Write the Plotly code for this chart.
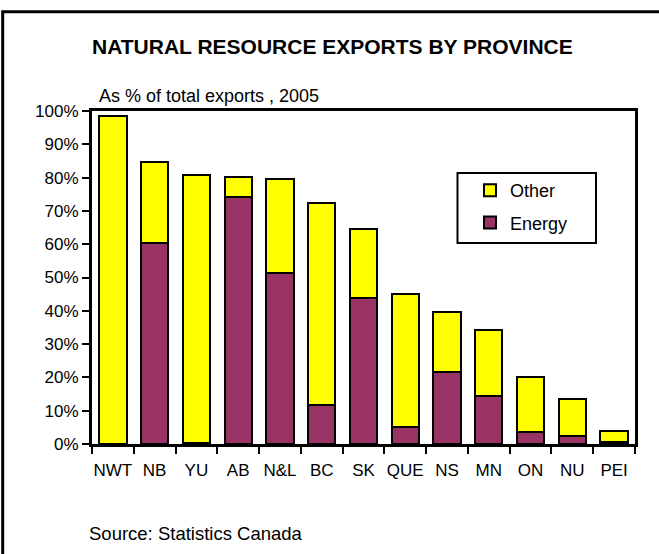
import plotly.graph_objects as go

# Natural resource exports as a share of total exports, 2005
provinces = ["NWT", "NB", "YU", "AB", "N&L", "BC", "SK", "QUE", "NS", "MN", "ON", "NU", "PEI"]
energy = [0.0, 60.4, 0.3, 74.1, 51.4, 11.6, 43.8, 5.1, 21.7, 14.4, 3.6, 2.5, 0.7]
other = [98.5, 24.3, 80.4, 6.1, 28.1, 60.9, 20.7, 39.9, 17.9, 19.8, 16.4, 10.9, 3.3]
y_ticks = [0, 10, 20, 30, 40, 50, 60, 70, 80, 90, 100]
y_labels = [f"{v}%" for v in y_ticks]

W, H = 659, 554
ML, MR, MT, MB = 92, 24, 111, 110
PW, PH = W - ML - MR, H - MT - MB


def px(x):
    return (x - ML) / PW


def py(y):
    return (H - MB - y) / PH


FONT = "Liberation Sans, Arial, sans-serif"

fig = go.Figure()
fig.add_trace(go.Bar(
    x=provinces, y=energy, name="Energy", legendgroup="energy", legendrank=2,
    marker=dict(color="#993366", line=dict(color="black", width=2)),
))
fig.add_trace(go.Bar(
    x=provinces, y=other, name="Other", legendgroup="other", legendrank=1,
    marker=dict(color="#FFFF00", line=dict(color="black", width=2)),
))

fig.update_layout(
    width=W, height=H,
    margin=dict(l=ML, r=MR, t=MT, b=MB),
    paper_bgcolor="white", plot_bgcolor="white",
    barmode="stack", bargap=0.345,
    font=dict(family=FONT, color="black", size=17),
    showlegend=True,
    legend=dict(
        x=px(470), y=py(172), xanchor="left", yanchor="top",
        traceorder="grouped", tracegroupgap=6,
        font=dict(size=18), bgcolor="rgba(0,0,0,0)", borderwidth=0,
    ),
    xaxis=dict(
        type="category", tickson="boundaries", ticks="outside", ticklen=7,
        tickwidth=2, tickcolor="black", showline=True, linewidth=3,
        linecolor="black", mirror=True, showgrid=False, tickangle=0,
        ticklabelstandoff=9, tickfont=dict(size=17),
    ),
    yaxis=dict(
        range=[0, 100], tickmode="array", tickvals=y_ticks, ticktext=y_labels,
        ticks="outside", ticklen=7, tickwidth=2, tickcolor="black",
        showline=True, linewidth=3, linecolor="black", mirror=True,
        showgrid=False, zeroline=False, tickfont=dict(size=17),
    ),
    shapes=[
        # outer frame
        dict(type="rect", xref="paper", yref="paper",
             x0=px(2.7), y0=py(570), x1=px(672), y1=py(11.7),
             line=dict(color="black", width=3), layer="below"),
        # legend box
        dict(type="rect", xref="paper", yref="paper",
             x0=px(457.5), y0=py(243), x1=px(596), y1=py(173),
             line=dict(color="black", width=2), fillcolor="white", layer="below"),
    ],
    annotations=[
        dict(text="<b>NATURAL RESOURCE EXPORTS BY PROVINCE</b>",
             xref="paper", yref="paper", x=px(332.5), y=py(46),
             xanchor="center", yanchor="middle", showarrow=False,
             font=dict(size=21)),
        dict(text="As % of total exports , 2005",
             xref="paper", yref="paper", x=px(97), y=py(96),
             xanchor="left", yanchor="middle", showarrow=False,
             font=dict(size=18)),
        dict(text="Source: Statistics Canada",
             xref="paper", yref="paper", x=px(87), y=py(533),
             xanchor="left", yanchor="middle", showarrow=False,
             font=dict(size=18.5)),
    ],
)

fig.write_html("out.html")
